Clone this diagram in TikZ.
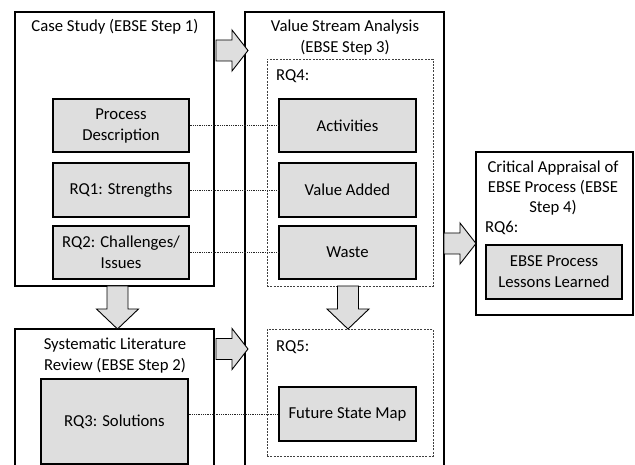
\documentclass[tikz,border=0pt]{standalone}
\usepackage{fontspec}
\setmainfont{Carlito}
\usetikzlibrary{shadows,calc}
\definecolor{boxgray}{HTML}{DEDEDE}
\tikzset{
  pics/arrowright/.style={code={
    \draw[fatarrow] (0,-10.5) -- (16,-10.5) -- (16,-20.5) -- (32,0) -- (16,20.5) -- (16,10.5) -- (0,10.5) -- cycle;}},
  pics/arrowdown/.style={code={
    \draw[fatarrow] (-10.5,0) -- (-10.5,23) -- (-21,23) -- (0,43) -- (21,23) -- (10.5,23) -- (10.5,0) -- cycle;}},
}
\begin{document}
\begin{tikzpicture}[x=1pt,y=-1pt,
  font=\fontsize{16.7}{21}\selectfont,
  stage/.style={draw=black, line width=1.2pt, fill=white, minimum width=199pt, inner sep=0pt,
    drop shadow={shadow xshift=0.9pt, shadow yshift=-0.9pt, opacity=0.5, fill=black}},
  item/.style={draw=black, line width=1.2pt, fill=boxgray, inner sep=0pt, align=center,
    drop shadow={shadow xshift=1.3pt, shadow yshift=-1.3pt, opacity=0.55, fill=black}},
  group/.style={draw=black!75, line width=0.9pt, dash pattern=on 2pt off 1.3pt, inner sep=0pt},
  heading/.style={align=center, inner sep=0pt},
  tag/.style={anchor=west, inner sep=0pt},
  link/.style={draw=black!85, line width=0.8pt, dash pattern=on 1pt off 0.8pt},
  fatarrow/.style={draw=black, line width=0.9pt, fill=boxgray, line join=miter},
]
\useasboundingbox (0,0) rectangle (635,465);
\clip (0,0) rectangle (635,465);

% --- stage containers
\node[stage, minimum height=274pt] (cs)  at (114.5,149) {};
\node[stage, minimum height=151pt] (slr) at (114.5,404.5) {};
\node[stage, minimum height=468pt] (vsa) at (344.5,246) {};
\node[stage, minimum width=157pt, minimum height=163pt] (ca) at (554.5,233.5) {};

% --- stage headings
\node[heading] (cstitle)  at (115,27)    {Case Study (EBSE Step 1)};
\node[heading] (slrtitle) at (115,355.5) {Systematic Literature\\Review (EBSE Step 2)};
\node[heading] (vsatitle) at (345,37.5)  {Value Stream Analysis\\(EBSE Step 3)};
\node[heading, font=\fontsize{16.7}{20}\selectfont] (catitle) at (553,188) {Critical Appraisal of\\EBSE Process (EBSE\\Step 4)};

% --- research question groups
\node[group, minimum width=166pt, minimum height=227pt] (rq4) at (350,172.5) {};
\node[group, minimum width=166pt, minimum height=127pt] (rq5) at (350,392.5) {};
\node[tag] (rq4tag) at (276,76)  {RQ4:};
\node[tag] (rq5tag) at (276,347) {RQ5:};
\node[tag] (rq6tag) at (485,228) {RQ6:};

% --- block arrows between stages
\pic at (216,50.5) {arrowright};
\pic at (216,349)  {arrowright};
\pic at (444,243.5) {arrowright};
\pic at (117.5,286) {arrowdown};
\pic at (348,286)   {arrowdown};

% --- work items
\node[item, minimum width=136pt, minimum height=53pt] (pd)  at (121,125.5) {Process\\Description};
\node[item, minimum width=136pt, minimum height=54pt] (rq1) at (121,190)   {RQ1: Strengths};
\node[item, minimum width=136pt, minimum height=53pt] (rq2) at (121,252.5) {RQ2: Challenges/\\Issues};
\node[item, minimum width=147pt, minimum height=85pt] (rq3) at (114.5,421.5) {RQ3: Solutions};

\node[item, minimum width=137pt, minimum height=53pt] (act)   at (347.5,125.5) {Activities};
\node[item, minimum width=137pt, minimum height=54pt] (va)    at (347.5,190)   {Value Added};
\node[item, minimum width=137pt, minimum height=53pt] (waste) at (347.5,252.5) {Waste};
\node[item, minimum width=137pt, minimum height=54pt] (fsm)   at (347.5,414)   {Future State Map};

\node[item, minimum width=136pt, minimum height=54pt] (lessons) at (554,272) {EBSE Process\\Lessons Learned};

% --- dotted correspondences
\draw[link] (pd.east)  -- (act.west);
\draw[link] (rq1.east) -- (va.west);
\draw[link] (rq2.east) -- (waste.west);
\draw[link] (rq3.east |- fsm.west) -- (fsm.west);
\end{tikzpicture}
\end{document}
